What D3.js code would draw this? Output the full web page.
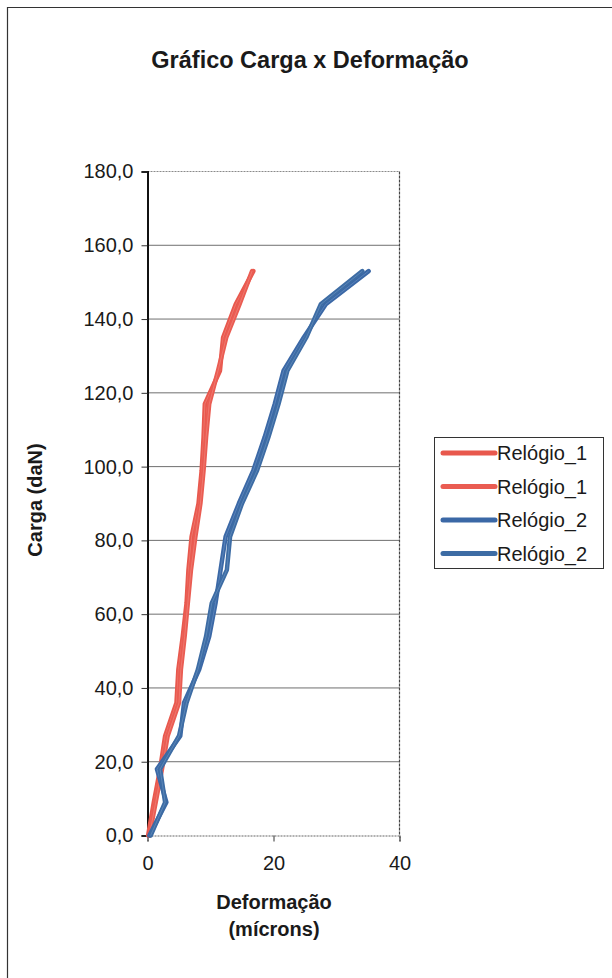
<!DOCTYPE html>
<html>
<head>
<meta charset="utf-8">
<script src="https://cdn.jsdelivr.net/npm/d3@7"></script>
<style>
  html, body { margin: 0; padding: 0; background: #fff; }
  svg { display: block; }
  text { font-family: "Liberation Sans", Arial, sans-serif; fill: #1a1a1a; }
</style>
</head>
<body>
<svg id="chart" width="612" height="978"></svg>
<script>
// Load steps (daN) shared by all gauge readings
const loads = [0, 9, 18, 27, 36, 45, 54, 63, 72, 81, 90, 99, 108, 117, 126, 135, 144, 153];

// Deformation readings (microns) for each dial gauge run
const relogio1a = [0.1, 1.0, 2.0, 2.8, 4.6, 4.9, 5.6, 6.2, 6.5, 7.0, 8.1, 8.6, 8.9, 9.1, 11.5, 12.0, 14.0, 16.8];
const relogio1b = [0.3, 1.3, 2.3, 3.2, 5.0, 5.3, 5.9, 6.4, 6.9, 7.6, 8.4, 8.9, 9.3, 9.8, 11.2, 12.5, 14.6, 16.6];
const relogio2a = [0.3, 3.0, 1.5, 5.2, 5.8, 8.2, 9.8, 10.8, 11.6, 12.4, 14.5, 16.8, 18.6, 20.2, 21.6, 24.8, 28.3, 35.1];
const relogio2b = [0.5, 2.8, 2.0, 5.0, 6.2, 8.0, 9.3, 10.2, 12.6, 13.1, 15.0, 17.4, 19.2, 20.8, 22.2, 25.2, 27.5, 34.1];

const seriesNames = ["Relógio_1", "Relógio_1", "Relógio_2", "Relógio_2"];
const seriesValues = [relogio1a, relogio1b, relogio2a, relogio2b];
const seriesColors = ["#e8584d", "#ea5c52", "#3b68a6", "#3d6ca4"];
const highlightColors = ["#f59a90", "#f59a90", "#7fa3cf", "#7fa3cf"];

const yTicks = [0, 20, 40, 60, 80, 100, 120, 140, 160, 180];
const xTicks = [0, 20, 40];

const titleText = "Gráfico Carga x Deformação";
const yLabel = "Carga (daN)";
const xLabelLines = ["Deformação", "(mícrons)"];

const svg = d3.select("#chart");

// outer chart frame (left and top edges)
svg.append("path")
  .attr("d", "M7.5,978 V7.5 H612")
  .attr("fill", "none").attr("stroke", "#333").attr("stroke-width", 1.2);

const x = d3.scaleLinear().domain([0, 40]).range([147.5, 399.5]);
const y = d3.scaleLinear().domain([0, 180]).range([835.5, 171.5]);

// horizontal gridlines
svg.append("g").selectAll("line")
  .data(yTicks.filter(d => d > 0 && d < 180))
  .join("line")
  .attr("x1", x(0)).attr("x2", x(40))
  .attr("y1", d => y(d)).attr("y2", d => y(d))
  .attr("stroke", "#6f6f6f").attr("stroke-width", 1);

// top gridline and right edge of the plot area
svg.append("line")
  .attr("x1", x(0)).attr("x2", x(40)).attr("y1", y(180)).attr("y2", y(180))
  .attr("stroke", "#8a8a8a").attr("stroke-width", 1).attr("stroke-dasharray", "2,1");
svg.append("line")
  .attr("x1", x(40)).attr("x2", x(40)).attr("y1", y(180)).attr("y2", y(0))
  .attr("stroke", "#444").attr("stroke-width", 1.2).attr("stroke-dasharray", "3,1");

// y axis
const yAxis = d3.axisLeft(y).tickValues(yTicks).tickSize(6).tickPadding(8)
  .tickFormat(d => d3.format(".1f")(d).replace(".", ","));
const gy = svg.append("g").attr("transform", `translate(${x(0)},0)`).call(yAxis);
gy.select(".domain").attr("stroke", "#111").attr("stroke-width", 2);
gy.selectAll(".tick line").attr("stroke", "#333");
gy.selectAll(".tick text").attr("font-size", 20).attr("fill", "#1a1a1a")
  .attr("font-family", "'Liberation Sans', Arial, sans-serif");

// x axis
const xAxis = d3.axisBottom(x).tickValues(xTicks).tickSize(6).tickPadding(14);
const gx = svg.append("g").attr("transform", `translate(0,${y(0)})`).call(xAxis);
gx.select(".domain").attr("stroke", "#666").attr("stroke-width", 1.2).attr("stroke-dasharray", "2,1");
gx.selectAll(".tick line").attr("stroke", "#333");
gx.selectAll(".tick text").attr("font-size", 20).attr("fill", "#1a1a1a")
  .attr("font-family", "'Liberation Sans', Arial, sans-serif");

// data lines
const line = d3.line()
  .x(d => x(d[0]))
  .y(d => y(d[1]));

const gLines = svg.append("g");
seriesValues.forEach((vals, i) => {
  const pts = vals.map((v, j) => [v, loads[j]]);
  gLines.append("path")
    .datum(pts)
    .attr("d", line)
    .attr("fill", "none")
    .attr("stroke", seriesColors[i])
    .attr("stroke-width", 4.5)
    .attr("stroke-linejoin", "round")
    .attr("stroke-linecap", "round");
  gLines.append("path")
    .datum(pts)
    .attr("d", line)
    .attr("fill", "none")
    .attr("stroke", highlightColors[i])
    .attr("stroke-opacity", 0.45)
    .attr("stroke-width", 1)
    .attr("stroke-linejoin", "round");
});

// title
svg.append("text")
  .attr("x", 310).attr("y", 68)
  .attr("text-anchor", "middle")
  .attr("font-size", 23.5).attr("font-weight", "bold")
  .text(titleText);

// y axis title
svg.append("text")
  .attr("transform", "translate(42,500) rotate(-90)")
  .attr("text-anchor", "middle")
  .attr("font-size", 20).attr("font-weight", "bold")
  .text(yLabel);

// x axis title
svg.append("g").selectAll("text")
  .data(xLabelLines)
  .join("text")
  .attr("x", 274)
  .attr("y", (d, i) => 909 + i * 27)
  .attr("text-anchor", "middle")
  .attr("font-size", 20).attr("font-weight", "bold")
  .text(d => d);

// legend
const legend = svg.append("g").attr("transform", "translate(434,437)");
legend.append("rect")
  .attr("x", 0.5).attr("y", 0.5).attr("width", 169).attr("height", 131)
  .attr("fill", "#fff").attr("stroke", "#333").attr("stroke-width", 1);
const items = legend.selectAll("g.item")
  .data(seriesNames)
  .join("g")
  .attr("class", "item")
  .attr("transform", (d, i) => `translate(0,${16 + i * 33.5})`);
items.append("line")
  .attr("x1", 9).attr("x2", 61).attr("y1", 0).attr("y2", 0)
  .attr("stroke", (d, i) => seriesColors[i])
  .attr("stroke-width", 5).attr("stroke-linecap", "round");
items.append("text")
  .attr("x", 63).attr("y", 7)
  .attr("font-size", 20)
  .text(d => d);
</script>
</body>
</html>
